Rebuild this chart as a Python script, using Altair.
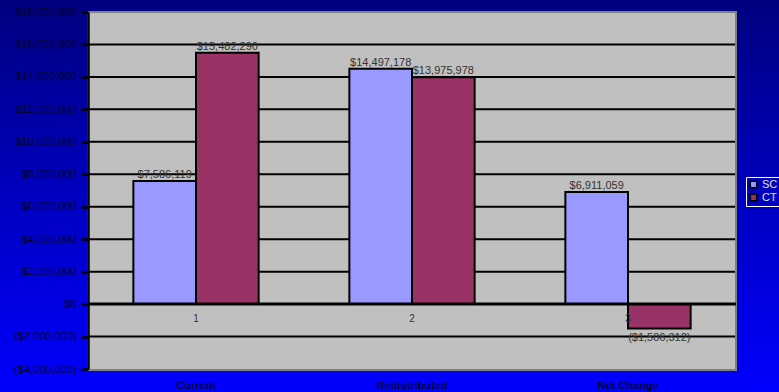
import altair as alt
import pandas as pd

categories = ["Current", "Redistributed", "Net Change"]
series = ["SC", "CT"]
sc_values = [7586119, 14497178, 6911059]
ct_values = [15482290, 13975978, -1506312]
group_numbers = ["1", "2", "3"]
grid_values = [-2000000, 2000000, 4000000, 6000000, 8000000, 10000000, 12000000, 14000000, 16000000]
y_ticks = [-4000000, -2000000, 0, 2000000, 4000000, 6000000, 8000000, 10000000,
           12000000, 14000000, 16000000, 18000000]

rows = []
for c, s, t in zip(categories, sc_values, ct_values):
    rows.append({"category": c, "series": "SC", "value": s})
    rows.append({"category": c, "series": "CT", "value": t})
df = pd.DataFrame(rows)


def money(v):
    return f"(${-v:,})" if v < 0 else f"${v:,}"


df["label"] = df["value"].apply(money)
num_df = pd.DataFrame({"category": categories, "num": group_numbers, "zero": [0, 0, 0]})
grid_df = pd.DataFrame({"g": grid_values})

W, H = 648, 357
FONT = "Liberation Sans"

xscale = alt.Scale(domain=categories, paddingInner=0.42, paddingOuter=0.21)
yscale = alt.Scale(domain=[-4000000, 18000000], nice=False, zero=False)
xoff_scale = alt.Scale(domain=series, paddingInner=0, paddingOuter=0)
color_scale = alt.Scale(domain=series, range=["#9999FF", "#993366"])

xaxis = alt.Axis(title=None, domain=False, ticks=False, labelAngle=0,
                 labelFont=FONT, labelFontSize=11, labelFontWeight="bold",
                 labelColor="#000033", labelPadding=10, zindex=1)
yaxis = alt.Axis(title=None, values=y_ticks, grid=False,
                 labelExpr="datum.value < 0 ? '($' + format(-datum.value, ',') + ')' : '$' + format(datum.value, ',')",
                 labelFont=FONT, labelFontSize=11, labelColor="#000022",
                 labelOverlap=False, labelFlush=False, labelBound=False,
                 domainColor="black", domainWidth=2.5,
                 tickColor="black", tickWidth=2.5, tickSize=7, labelPadding=5,
                 zindex=1)

one = alt.Data(values=[{"a": 1}])

bg = alt.Chart(one).mark_rect(
    color=alt.Gradient(
        gradient="linear", x1=0, y1=0, x2=0, y2=1,
        stops=[alt.GradientStop(offset=0, color="#000080"),
               alt.GradientStop(offset=1, color="#0000FF")],
    )
).encode(x=alt.value(-88), x2=alt.value(W + 43), y=alt.value(-12), y2=alt.value(H + 23))

plotbg = alt.Chart(one).mark_rect(color="#C0C0C0", stroke="#808080", strokeWidth=2).encode(
    x=alt.value(0), x2=alt.value(W), y=alt.value(0), y2=alt.value(H + 1)
)

grid = alt.Chart(grid_df).mark_rule(color="black", strokeWidth=2).encode(
    y=alt.Y("g:Q", scale=yscale, axis=yaxis),
    x=alt.value(0), x2=alt.value(W - 1),
)

bars = alt.Chart(df).mark_bar(stroke="black", strokeWidth=2).encode(
    x=alt.X("category:N", scale=xscale, sort=categories, axis=xaxis),
    xOffset=alt.XOffset("series:N", scale=xoff_scale, sort=series),
    y=alt.Y("value:Q", scale=yscale, axis=yaxis),
    color=alt.Color("series:N", scale=color_scale, sort=series,
                    legend=alt.Legend(title=None, orient="none", legendX=658, legendY=165,
                                      strokeColor="white", padding=2, rowPadding=0,
                                      symbolType="square", symbolSize=40,
                                      symbolStrokeColor="black", symbolStrokeWidth=1.5,
                                      labelColor="#E0E0E0", labelFont=FONT, labelFontSize=11,
                                      labelOffset=3)),
)

zero = alt.Chart(one).mark_rule(color="black", strokeWidth=3).encode(
    y=alt.datum(0, scale=yscale, axis=yaxis), x=alt.value(0), x2=alt.value(W)
)

pos_labels = alt.Chart(df).transform_filter("datum.value >= 0").mark_text(
    baseline="bottom", dy=-1, font=FONT, fontSize=11, color="#333333"
).encode(
    x=alt.X("category:N", scale=xscale, sort=categories, axis=xaxis),
    xOffset=alt.XOffset("series:N", scale=xoff_scale, sort=series),
    y=alt.Y("value:Q", scale=yscale, axis=yaxis),
    text="label:N",
)

neg_labels = alt.Chart(df).transform_filter("datum.value < 0").mark_text(
    baseline="top", dy=3, font=FONT, fontSize=11, color="#333333"
).encode(
    x=alt.X("category:N", scale=xscale, sort=categories, axis=xaxis),
    xOffset=alt.XOffset("series:N", scale=xoff_scale, sort=series),
    y=alt.Y("value:Q", scale=yscale, axis=yaxis),
    text="label:N",
)

nums = alt.Chart(num_df).mark_text(
    baseline="middle", dy=15, font=FONT, fontSize=10, color="#333333"
).encode(
    x=alt.X("category:N", scale=xscale, sort=categories, axis=xaxis),
    y=alt.Y("zero:Q", scale=yscale, axis=yaxis),
    text="num:N",
)

chart = alt.layer(bg, plotbg, grid, bars, zero, pos_labels, neg_labels, nums).properties(
    width=W, height=H,
    autosize=alt.AutoSizeParams(type="none"),
    padding={"left": 88, "top": 12, "right": 43, "bottom": 23},
    background="#0000C0",
).configure_view(stroke=None)

chart.save("out.html", embed_options={"renderer": "svg", "actions": False})
